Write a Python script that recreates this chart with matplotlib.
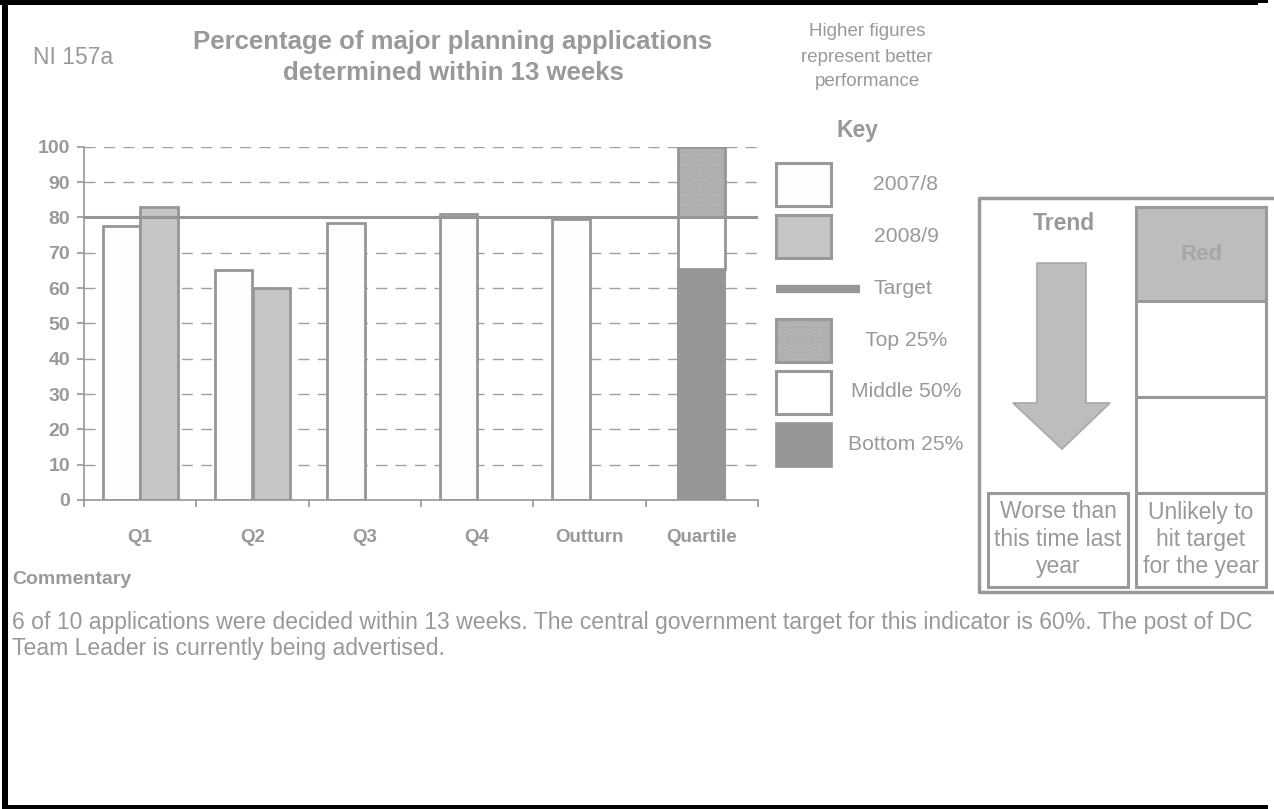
import matplotlib
matplotlib.use("Agg")
import matplotlib.pyplot as plt
from matplotlib.patches import Rectangle, Polygon
from matplotlib.lines import Line2D
import numpy as np

plt.rcParams['font.family'] = ['Liberation Sans', 'DejaVu Sans']
plt.rcParams['hatch.linewidth'] = 1.0

# ---------------- data ----------------
categories = ['Q1', 'Q2', 'Q3', 'Q4', 'Outturn', 'Quartile']
series_0708 = [77.5, 65.0, 78.3, 81.0, 79.5]   # 2007/8 (Q1..Q4, Outturn)
series_0809 = [83.0, 60.0]                      # 2008/9 (Q1, Q2)
target_value = 80
quartile_bounds = [0, 65.3, 80, 100]            # bottom / middle / top 25%
yticks = [0, 10, 20, 30, 40, 50, 60, 70, 80, 90, 100]
legend_labels = ['2007/8', '2008/9', 'Target', 'Top 25%', 'Middle 50%', 'Bottom 25%']

W, H = 1274, 809
GRAY = '#969696'
TXT = '#999999'
LIGHT = '#c6c6c6'
TOPFILL = '#d2d2d2'

fig = plt.figure(figsize=(W / 100, H / 100), dpi=100)
fig.patch.set_facecolor('white')

def fx(x):
    return x / W

def fy(y):
    return 1 - y / H

def rect(x0, y0, x1, y1, **kw):
    r = Rectangle((fx(x0), fy(y1)), fx(x1) - fx(x0), fy(y0) - fy(y1),
                  transform=fig.transFigure, **kw)
    fig.add_artist(r)
    return r

def text(x, y, s, **kw):
    kw.setdefault('color', TXT)
    kw.setdefault('ha', 'center')
    kw.setdefault('va', 'center')
    fig.text(fx(x), fy(y), s, **kw)

# ---------------- main axes ----------------
ax_l, ax_r, ax_t, ax_b = 84, 758, 146.7, 500
ax = fig.add_axes([fx(ax_l), fy(ax_b), fx(ax_r) - fx(ax_l), fy(ax_t) - fy(ax_b)])
ax.set_xlim(-0.5, len(categories) - 0.5)
ax.set_ylim(0, 100)
ax.patch.set_alpha(0)

for v in yticks[1:]:
    if v == target_value:
        continue
    ax.axhline(v, color='#a0a0a0', lw=1.0, ls=(0, (8, 6)), zorder=0)

bw = 1 / 3
x0708 = np.arange(len(series_0708)) - bw / 2
x0809 = np.arange(len(series_0809)) + bw / 2
ax.bar(x0708, series_0708, width=bw, color='#fdfdfd', edgecolor=GRAY, lw=2.0, zorder=2)
ax.bar(x0809, series_0809, width=bw, color=LIGHT, edgecolor=GRAY, lw=2.0, zorder=2)

qx = len(categories) - 1
qw = 0.42
ax.bar(qx, quartile_bounds[1] - quartile_bounds[0], bottom=quartile_bounds[0], width=qw,
       color=GRAY, edgecolor=GRAY, lw=1.5, zorder=2)
ax.bar(qx, quartile_bounds[2] - quartile_bounds[1], bottom=quartile_bounds[1], width=qw,
       color='white', edgecolor=GRAY, lw=2.0, zorder=2)
ax.bar(qx, quartile_bounds[3] - quartile_bounds[2], bottom=quartile_bounds[2], width=qw,
       color=TOPFILL, edgecolor=GRAY, hatch='..........', lw=2.0, zorder=2)

ax.axhline(target_value, color=GRAY, lw=2.2, zorder=3)

for s in ['top', 'right']:
    ax.spines[s].set_visible(False)
for s in ['left', 'bottom']:
    ax.spines[s].set_color(GRAY)
    ax.spines[s].set_linewidth(1.2)
ax.set_yticks(yticks)
ax.set_yticklabels([str(v) for v in yticks])
ax.tick_params(axis='y', colors=GRAY, length=5, width=1.2, pad=5,
               labelsize=14, labelcolor=TXT)
for lab in ax.get_yticklabels():
    lab.set_fontweight('bold')
ax.set_xticks(np.arange(len(categories)))
ax.set_xticklabels(categories)
ax.set_xticks(np.arange(len(categories) + 1) - 0.5, minor=True)
ax.tick_params(axis='x', which='major', length=0, pad=21, labelsize=13.5, labelcolor=TXT)
ax.tick_params(axis='x', which='minor', length=5, width=1.2, color=GRAY)
for lab in ax.get_xticklabels():
    lab.set_fontweight('bold')

# ---------------- header texts ----------------
text(73, 57, 'NI 157a', fontsize=16.5)
text(453, 42, 'Percentage of major planning applications', fontsize=18.5, fontweight='bold')
text(453, 73, 'determined within 13 weeks', fontsize=18.5, fontweight='bold')
text(867, 31, 'Higher figures', fontsize=13.5)
text(867, 57, 'represent better', fontsize=13.5)
text(867, 82, 'performance', fontsize=13.5)

# ---------------- key ----------------
text(857, 130, 'Key', fontsize=16.5, fontweight='bold')
lx0, lx1 = 776, 831
rect(lx0, 163, lx1, 206, facecolor='#fdfdfd', edgecolor='#999999', lw=2.2)
text(906, 184, legend_labels[0], fontsize=15.2)
rect(lx0, 215, lx1, 258, facecolor=LIGHT, edgecolor='#999999', lw=2.2)
text(906, 236, legend_labels[1], fontsize=15.2)
fig.add_artist(Line2D([fx(776), fx(860)], [fy(289), fy(289)], color=GRAY, lw=6,
                      solid_capstyle='butt', transform=fig.transFigure))
text(903, 288, legend_labels[2], fontsize=15.2)
rect(lx0, 319, lx1, 362, facecolor=TOPFILL, edgecolor='#999999', hatch='..........', lw=2.2)
text(906, 340, legend_labels[3], fontsize=15.2)
rect(lx0, 371, lx1, 414, facecolor='white', edgecolor='#999999', lw=2.2)
text(906, 392, legend_labels[4], fontsize=15.2)
rect(775, 422, 832, 467, facecolor=GRAY, edgecolor=GRAY, lw=0.5)
text(906, 444, legend_labels[5], fontsize=15.2)

# ---------------- trend panel ----------------
pc = '#999999'
fig.add_artist(Line2D([fx(1276), fx(979), fx(979), fx(1276)],
                      [fy(198), fy(198), fy(592), fy(592)],
                      color=pc, lw=2.5, transform=fig.transFigure))
text(1064, 223, 'Trend', fontsize=16.5, fontweight='bold')
arrow = [(1037, 263), (1086, 263), (1086, 403), (1110, 403), (1062, 449),
         (1013, 403), (1037, 403)]
fig.add_artist(Polygon([(fx(a), fy(b)) for a, b in arrow], closed=True,
                       facecolor='#bdbdbd', edgecolor='#a8a8a8', lw=1.2,
                       transform=fig.transFigure))
rect(1136, 207, 1266, 301, facecolor='#bdbdbd', edgecolor=pc, lw=2.2)
text(1202, 254, 'Red', fontsize=16, fontweight='bold', color='#a6a6a6')
rect(1136, 301, 1266, 397, facecolor='white', edgecolor=pc, lw=2.2)
rect(1136, 397, 1266, 493, facecolor='white', edgecolor=pc, lw=2.2)
rect(1136, 493, 1266, 587, facecolor='white', edgecolor=pc, lw=2.2)
rect(988, 493, 1128, 587, facecolor='white', edgecolor=pc, lw=2.2)
for i, s in enumerate(['Worse than', 'this time last', 'year']):
    text(1058, 512 + 27.5 * i, s, fontsize=16.5)
for i, s in enumerate(['Unlikely to', 'hit target', 'for the year']):
    text(1201, 512 + 27.5 * i, s, fontsize=16.5)

# ---------------- commentary ----------------
text(12, 579, 'Commentary', fontsize=14, fontweight='bold', ha='left')
text(12, 622, '6 of 10 applications were decided within 13 weeks. The central government '
     'target for this indicator is 60%. The post of DC', fontsize=16.6, ha='left')
text(12, 648, 'Team Leader is currently being advertised.', fontsize=16.6, ha='left')

# ---------------- page border ----------------
rect(0, 0, 1258, 5, facecolor='black', edgecolor='none')
rect(1258, 0, 1268, 3, facecolor='black', edgecolor='none')
rect(2, 0, 8, 809, facecolor='black', edgecolor='none')
rect(2, 805, 1268, 809, facecolor='black', edgecolor='none')

fig.savefig('out.png', dpi=100, facecolor='white')
